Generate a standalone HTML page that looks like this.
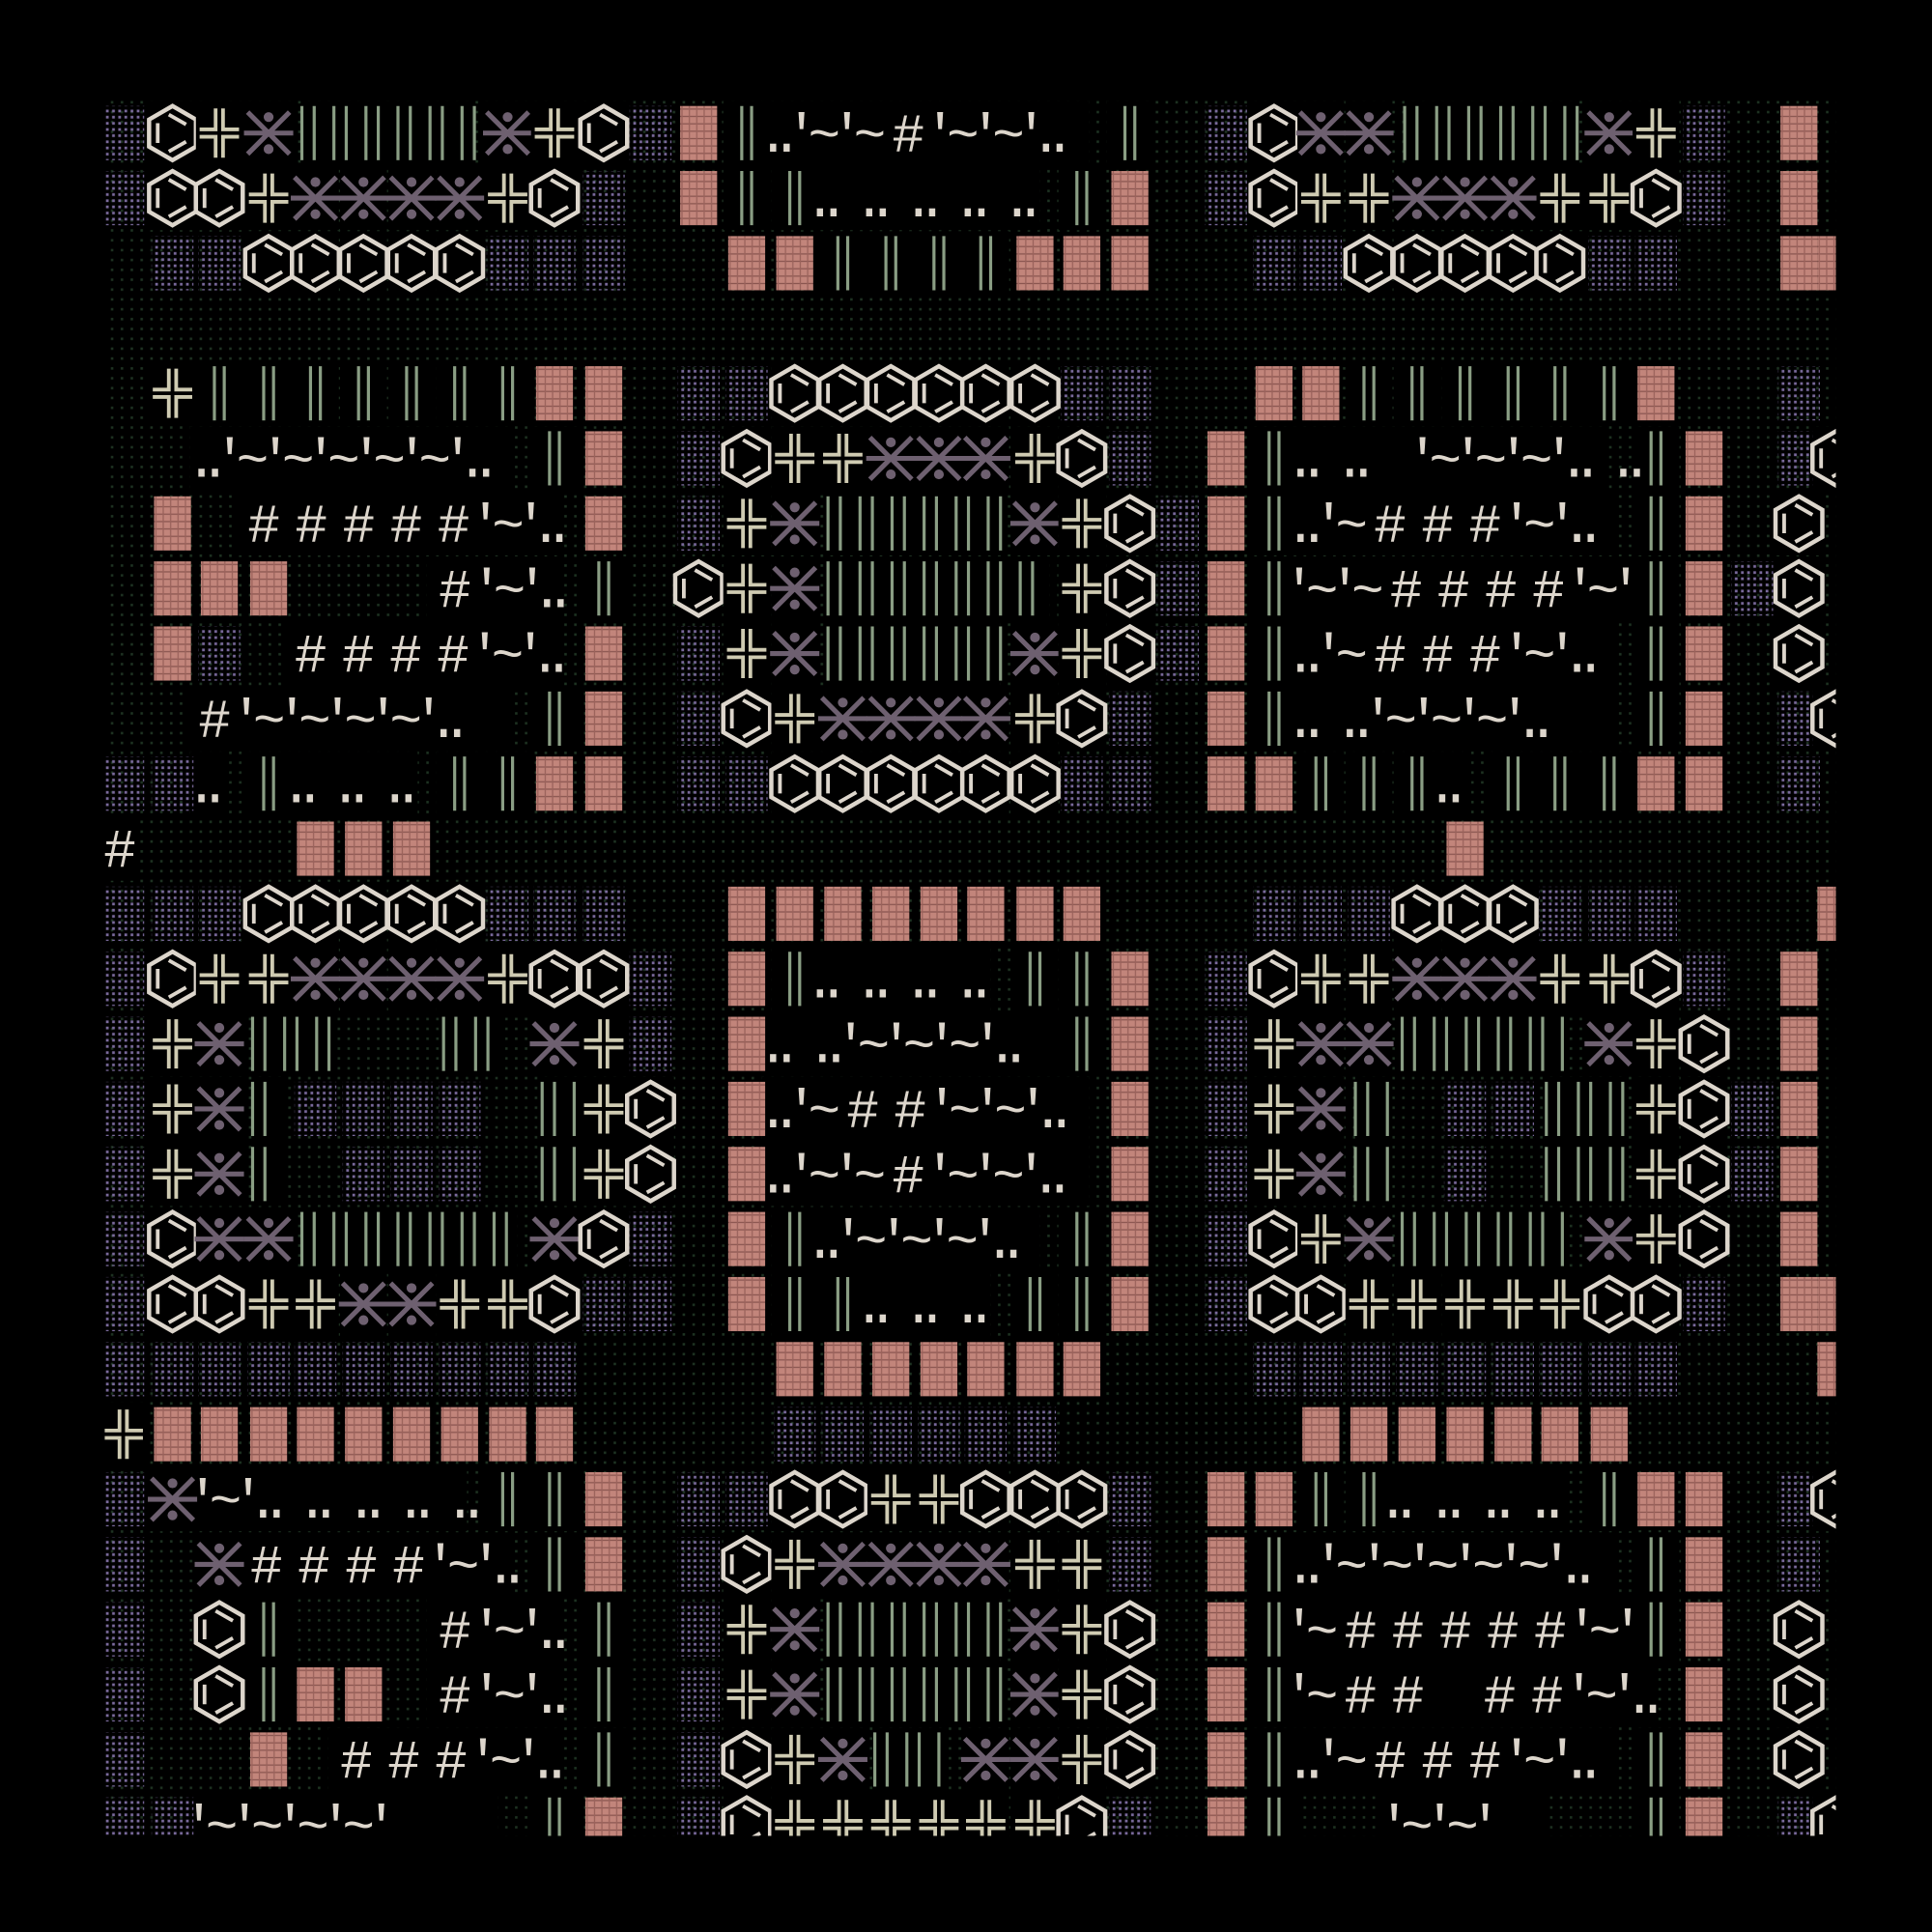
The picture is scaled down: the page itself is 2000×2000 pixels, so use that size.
<!DOCTYPE html>
<html><head><meta charset="utf-8">
<style>
html,body{margin:0;padding:0;background:#000;}
svg{display:block;}
text{font-family:"Liberation Mono","DejaVu Sans Mono",monospace;fill:#ddd6cc;font-size:44px;text-anchor:middle;}
</style></head>
<body>
<svg id="s" width="2000" height="2000" viewBox="0 0 1568 1568" xmlns="http://www.w3.org/2000/svg">
<defs>
<pattern id="pv" width="5" height="5" patternUnits="userSpaceOnUse"><rect x="1" y="1" width="2.2" height="2.2" fill="#7a6a9c"/></pattern>
<pattern id="pg" width="8" height="8" patternUnits="userSpaceOnUse"><rect x="2" y="2" width="2" height="2" fill="#1e3322"/></pattern>
<pattern id="pp" width="6" height="6" patternUnits="userSpaceOnUse"><rect width="6" height="6" fill="#c2857b"/><rect x="0" y="4" width="6" height="1" fill="#8a5650"/><rect x="4" y="0" width="1" height="6" fill="#9a625b"/></pattern>
<clipPath id="cp"><rect x="85" y="78" width="1405" height="1412"/></clipPath>
</defs>
<rect width="1568" height="1568" fill="#000"/>
<g clip-path="url(#cp)" id="g">
<rect x="85" y="78" width="1405" height="1412" fill="url(#pg)"/>
</g>
</svg>
<script>
var rows=[
"v100 H140 +178 X218 B245:385 X412 +450 H490 v528 P567 b606 b917 v995 H1034 X1072 X1111 B1140:1280 X1306 +1344 v1383 P1460",
"v100 H140 H178 +218 X256 X295 X334 X373 +412 H450 v490 P567 b606 b645 b878 P917 v995 H1034 +1072 +1111 X1150 X1189 X1228 +1266 +1306 H1344 v1383 P1460",
"v140 v178 H218 H256 H295 H334 H373 v412 v450 v490 P606 P645 b684 b723 b762 b800 P840 P878 P917 v1034 v1072 H1111 H1150 H1189 H1228 H1266 v1306 v1344 P1460 P1490",
"",
"+140 b178 b218 b256 b295 b334 b373 b412 P450 P490 v567 v606 H645 H684 H723 H762 H800 H840 v878 v917 P1034 P1072 b1111 b1150 b1189 b1228 b1266 b1306 P1344 v1460",
"b450 P490 v567 H606 +645 +684 X723 X762 X800 +840 H878 v917 P995 b1034 b1344 P1383 v1460 H1490",
"P140 P490 v567 +606 X645 B672:812 X840 +878 H917 v956 P995 b1034 b1344 P1383 H1460",
"P140 P178 P218 b490 H567 +606 X645 B672:852 +878 H917 v956 P995 b1034 b1344 P1383 v1422 H1460",
"P140 v178 P490 v567 +606 X645 B672:812 X840 +878 H917 v956 P995 b1034 b1344 P1383 H1460",
"b450 P490 v567 H606 +645 X684 X723 X762 X800 +840 H878 v917 P995 b1034 b1344 P1383 v1460 H1490",
"v100 v140 b218 b373 b412 P450 P490 v567 v606 H645 H684 H723 H762 H800 H840 v878 v917 P995 P1034 b1072 b1111 b1150 b1228 b1266 b1306 P1344 P1383 v1460",
"P256 P295 P334 P1189",
"v100 v140 v178 H218 H256 H295 H334 H373 v412 v450 v490 P606 P645 P684 P723 P762 P800 P840 P878 v1034 v1072 v1111 H1150 H1189 H1228 v1266 v1306 v1344 P1490",
"v100 H140 +178 +218 X256 X295 X334 X373 +412 H450 H490 v528 P606 b645 b840 b878 P917 v995 H1034 +1072 +1111 X1150 X1189 X1228 +1266 +1306 H1344 v1383 P1460",
"v100 +140 X178 B205:270 B360:410 X450 +490 v528 P606 b878 P917 v995 +1034 X1072 X1111 B1138:1270 X1306 +1344 H1383 P1460",
"v100 +140 X178 B205:230 v256 v295 v334 v373 B440:470 +490 H528 P606 P917 v995 +1034 X1072 B1100:1130 v1189 v1228 B1255:1320 +1344 H1383 v1422 P1460",
"v100 +140 X178 B205:230 v295 v334 v373 B440:470 +490 H528 P606 P917 v995 +1034 X1072 B1100:1130 v1189 B1255:1320 +1344 H1383 v1422 P1460",
"v100 H140 X178 X218 B245:420 X450 H490 v528 P606 b645 b878 P917 v995 H1034 +1072 X1111 B1138:1270 X1306 +1344 H1383 P1460",
"v100 H140 H178 +218 +256 X295 X334 +373 +412 H450 v490 v528 P606 b645 b684 b840 b878 P917 v995 H1034 H1072 +1111 +1150 +1189 +1228 +1266 H1306 H1344 v1383 P1460 P1490",
"v100 v140 v178 v218 v256 v295 v334 v373 v412 v450 P645 P684 P723 P762 P800 P840 P878 v1034 v1072 v1111 v1150 v1189 v1228 v1266 v1306 v1344 P1490",
"+100 P140 P178 P218 P256 P295 P334 P373 P412 P450 v645 v684 v723 v762 v800 v840 P1072 P1111 P1150 P1189 P1228 P1266 P1306",
"v100 X140 b412 b450 P490 v567 v606 H645 H684 +723 +762 H800 H840 H878 v917 P995 P1034 b1072 b1111 b1306 P1344 P1383 v1460 H1490",
"v100 X178 b450 P490 v567 H606 +645 X684 X723 X762 X800 +840 +878 v917 P995 b1034 b1344 P1383 v1460",
"v100 H178 b218 b490 v567 +606 X645 B672:812 X840 +878 H917 P995 b1034 b1344 P1383 H1460",
"v100 H178 b218 P256 P295 b490 v567 +606 X645 B672:812 X840 +878 H917 P995 b1034 P1383 H1460",
"v100 P218 b490 v567 H606 +645 X684 B710:770 X800 X840 +878 H917 P995 b1034 b1344 P1383 H1460",
"v100 v140 b450 P490 v567 H606 +645 +684 +723 +762 +800 +840 H878 v917 P995 b1034 b1344 P1383 v1460 H1490"
];
var texts=[
[0,622,880,"..'~'~#'~'~'.."],
[1,660,840,".. .. .. .. .."],
[5,158,410,"..'~'~'~'~'~'.."],[5,1050,1300,".. ..  '~'~'~'.. .."],
[6,195,450,"#####'~'.."],[6,1050,1305,"..'~###'~'.."],
[7,350,450,"#'~'.."],[7,1048,1330,"'~'~####'~'"],
[8,233,450,"####'~'.."],[8,1050,1305,"..'~###'~'.."],
[9,155,410,"#'~'~'~'~'.."],[9,1050,1305,".. ..'~'~'~'.."],
[10,158,180,".."],[10,235,335,".. .. .."],[10,1165,1190,".."],
[11,78,108,"#"],
[13,660,800,".. .. .. .."],
[14,622,860,".. ..'~'~'~'.."],
[15,622,880,"..'~##'~'~'.."],
[16,622,880,"..'~'~#'~'~'.."],
[17,660,840,"..'~'~'~'.."],
[18,700,800,".. .. .."],
[21,158,375,"'~'.. .. .. .. .."],[21,1125,1265,".. .. .. .."],
[22,197,410,"####'~'.."],[22,1050,1305,"..'~'~'~'~'~'.."],
[23,350,450,"#'~'.."],[23,1048,1330,"'~#####'~'"],
[24,350,450,"#'~'.."],[24,1048,1340,"'~##  ##'~'.."],
[25,270,450,"###'~'.."],[25,1050,1305,"..'~###'~'.."],
[26,155,400,"'~'~'~'~'"],[26,1125,1250,"'~'~'"]
];
var W={"#":38.5,"'":13,"~":24,".":11," ":18};
var out=[];
function Y(r){return 108+52.8*r;}
texts.forEach(function(t){var y=Y(t[0]);out.push('<rect x="'+(t[1]-4)+'" y="'+(y-26)+'" width="'+(t[2]-t[1]+8)+'" height="52" fill="#000"/>');});
rows.forEach(function(row,r){
  var y=Y(r);
  if(!row)return;
  row.split(" ").forEach(function(tok){
    var k=tok[0],rest=tok.slice(1);
    if(k=="B"){var a=rest.split(":"),x1=+a[0],x2=+a[1];
      out.push('<rect x="'+x1+'" y="'+(y-26)+'" width="'+(x2-x1)+'" height="52" fill="#000"/>');
      var i=0;
      for(var x=x1;x<=x2;x+=(i++%2?16:10))out.push('<line x1="'+x+'" y1="'+(y-22)+'" x2="'+x+'" y2="'+(y+22)+'" stroke="#8a9e84" stroke-width="2.5"/>');
      return;}
    var x=+rest;
    var g='<g transform="translate('+x+','+y+')">';
    if(k=="P")g+='<rect x="-15" y="-22" width="30" height="44" fill="url(#pp)"/>';
    else if(k=="v")g+='<rect x="-17" y="-22" width="34" height="44" fill="url(#pv)"/>';
    else if(k=="H")g+='<rect x="-19" y="-26" width="38" height="52" fill="#000"/><polygon points="0,-22 19,-11 19,11 0,22 -19,11 -19,-11" fill="none" stroke="#ddd6cc" stroke-width="3.5"/><path d="M-12,-8V8M-3,-15L11,-7M-3,15L11,7" stroke="#ddd6cc" stroke-width="3" fill="none"/>';
    else if(k=="X")g+='<rect x="-19" y="-26" width="38" height="52" fill="#000"/><path d="M-20,0H20M-17,-17L17,17M-17,17L17,-17" stroke="#6e6070" stroke-width="4" fill="none"/><circle cx="0" cy="-13" r="4" fill="#6e6070"/><circle cx="0" cy="13" r="4" fill="#6e6070"/>';
    else if(k=="+")g+='<rect x="-19" y="-26" width="38" height="52" fill="#000"/><path d="M-3,-20V-3H-16M3,-20V-3H16M-3,20V3H-16M3,20V3H16" stroke="#cfcbb2" stroke-width="3" fill="none"/>';
    else if(k=="b")g+='<rect x="-19" y="-26" width="38" height="52" fill="#000"/><path d="M-4,-22V22M4,-22V22" stroke="#8a9e84" stroke-width="2.5"/>';
    out.push(g+'</g>');
  });
});
texts.forEach(function(t){var y=Y(t[0])+15;var x=t[1];
  for(var i=0;i<t[3].length;i++){var c=t[3][i],w=W[c]||20;
    if(c!=" ")out.push('<text x="'+(x+w/2)+'" y="'+y+'">'+c+'</text>');
    x+=w;}
});
document.getElementById("g").insertAdjacentHTML("beforeend",out.join(""));
</script>
</body></html>
